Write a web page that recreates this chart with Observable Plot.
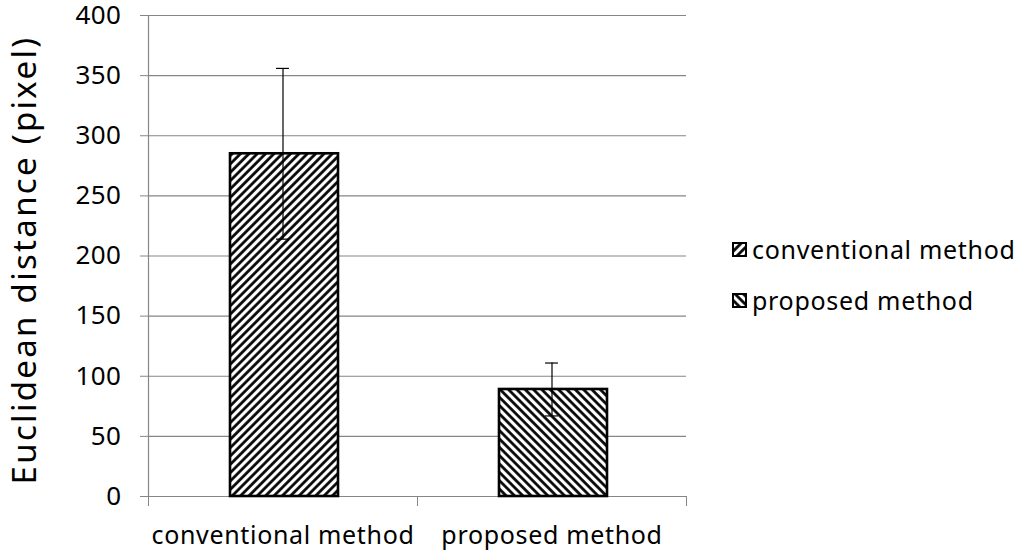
<!DOCTYPE html>
<html>
<head>
<meta charset="utf-8">
<script src="https://cdn.jsdelivr.net/npm/d3@7"></script>
<script src="https://cdn.jsdelivr.net/npm/@observablehq/plot@0.6"></script>
<style>
  html, body { margin: 0; padding: 0; background: #fff; }
  #wrap { position: relative; width: 1024px; height: 558px; font-family: "Noto Sans", sans-serif; }
  .leg { position: absolute; left: 732px; height: 28px; font-size: 25px; letter-spacing: 0.7px; color: #000; display: flex; align-items: center; white-space: nowrap; }
  .leg svg { margin-right: 5px; }
</style>
</head>
<body>
<div id="wrap"></div>
<script>
const categories = ["conventional method", "proposed method"];
const means = [285, 89];
const errors = [71, 22];
const yTicks = [0, 50, 100, 150, 200, 250, 300, 350, 400];
const patterns = ["hatchFwd", "hatchBack"];
const yTitle = "Euclidean distance (pixel)";

const data = categories.map((c, i) => ({
  cat: c, i, i1: i + 1, mid: i + 0.5,
  value: means[i], lo: means[i] - errors[i], hi: means[i] + errors[i],
  pat: `url(#${patterns[i]})`
}));

const NS = "http://www.w3.org/2000/svg";
function defsMark() {
  const g = document.createElementNS(NS, "g");
  const defs = document.createElementNS(NS, "defs");
  [["hatchFwd", 45], ["hatchBack", -45]].forEach(([id, rot]) => {
    const p = document.createElementNS(NS, "pattern");
    p.setAttribute("id", id);
    p.setAttribute("patternUnits", "userSpaceOnUse");
    p.setAttribute("width", "5.9");
    p.setAttribute("height", "5.9");
    p.setAttribute("patternTransform", `rotate(${rot})`);
    const r = document.createElementNS(NS, "rect");
    r.setAttribute("width", "5.9"); r.setAttribute("height", "5.9"); r.setAttribute("fill", "#fff");
    const l = document.createElementNS(NS, "line");
    l.setAttribute("x1", "1.5"); l.setAttribute("x2", "1.5");
    l.setAttribute("y1", "-1"); l.setAttribute("y2", "7");
    l.setAttribute("stroke", "#000"); l.setAttribute("stroke-width", "2.7");
    p.appendChild(r); p.appendChild(l);
    defs.appendChild(p);
  });
  g.appendChild(defs);
  return g;
}

const font = "'Noto Sans', sans-serif";
const grid = "#868686";

const chart = Plot.plot({
  width: 720,
  height: 558,
  marginLeft: 148,
  marginRight: 34,
  marginTop: 15,
  marginBottom: 62,
  style: { fontFamily: font, fontSize: "25px", color: "#000", background: "#fff", overflow: "visible", letterSpacing: "0.67px" },
  x: { type: "linear", domain: [0, 2], axis: null },
  y: { domain: [0, 400], axis: null },
  fill: { type: "identity" },
  marks: [
    defsMark,
    Plot.gridY(yTicks, { stroke: grid, strokeOpacity: 1, strokeWidth: 1.2 }),
    Plot.axisY(yTicks, { tickSize: 8, tickPadding: 19, stroke: grid, strokeOpacity: 1, fontSize: 26, label: null, tickFormat: d => d, className: "ytick" }),
    Plot.ruleX([0], { stroke: grid, strokeWidth: 1.2 }),
    Plot.axisX([0, 1, 2], { tickSize: 10, stroke: grid, strokeOpacity: 1, tickFormat: () => "", label: null }),
    Plot.axisX([0.5, 1.5], { tickSize: 0, tickPadding: 30, fontSize: 25, label: null, tickFormat: d => categories[Math.floor(d)] }),
    Plot.ruleY([0], { stroke: grid, strokeWidth: 1.2, insetLeft: -8 }),
    Plot.rectY(data, { x1: "i", x2: "i1", y: "value", insetLeft: 82, insetRight: 79, fill: "pat", stroke: "#000", strokeWidth: 2.6 }),
    Plot.ruleX(data, { x: "mid", y1: "lo", y2: "hi", stroke: "#000", strokeWidth: 1.2 }),
    Plot.ruleY(data, { y: "hi", x1: d => d.mid - 0.024, x2: d => d.mid + 0.024, stroke: "#000", strokeWidth: 1.2 }),
    Plot.ruleY(data, { y: "lo", x1: d => d.mid - 0.024, x2: d => d.mid + 0.024, stroke: "#000", strokeWidth: 1.2 }),
    Plot.text([yTitle], { frameAnchor: "left", textAnchor: "middle", rotate: -90, dx: -123, dy: 4, fontSize: 33, fill: "#000" })
  ]
});

// per-text letter spacing tweaks
chart.querySelectorAll("text").forEach(t => {
  if (t.textContent === yTitle) t.setAttribute("letter-spacing", "2.3px");
  else if (yTicks.map(String).includes(t.textContent)) t.setAttribute("letter-spacing", "0.5px");
});

const wrap = document.getElementById("wrap");
chart.style.position = "absolute";
chart.style.left = "0px";
chart.style.top = "0px";
wrap.appendChild(chart);

const legTops = [235, 286];
categories.forEach((c, i) => {
  const div = document.createElement("div");
  div.className = "leg";
  div.style.top = legTops[i] + "px";
  div.innerHTML = `<svg width="15" height="15"><rect x="1" y="1" width="13" height="13" fill="url(#${patterns[i]})" stroke="#000" stroke-width="2"/></svg><span></span>`;
  div.querySelector("span").textContent = c;
  wrap.appendChild(div);
});
</script>
</body>
</html>
